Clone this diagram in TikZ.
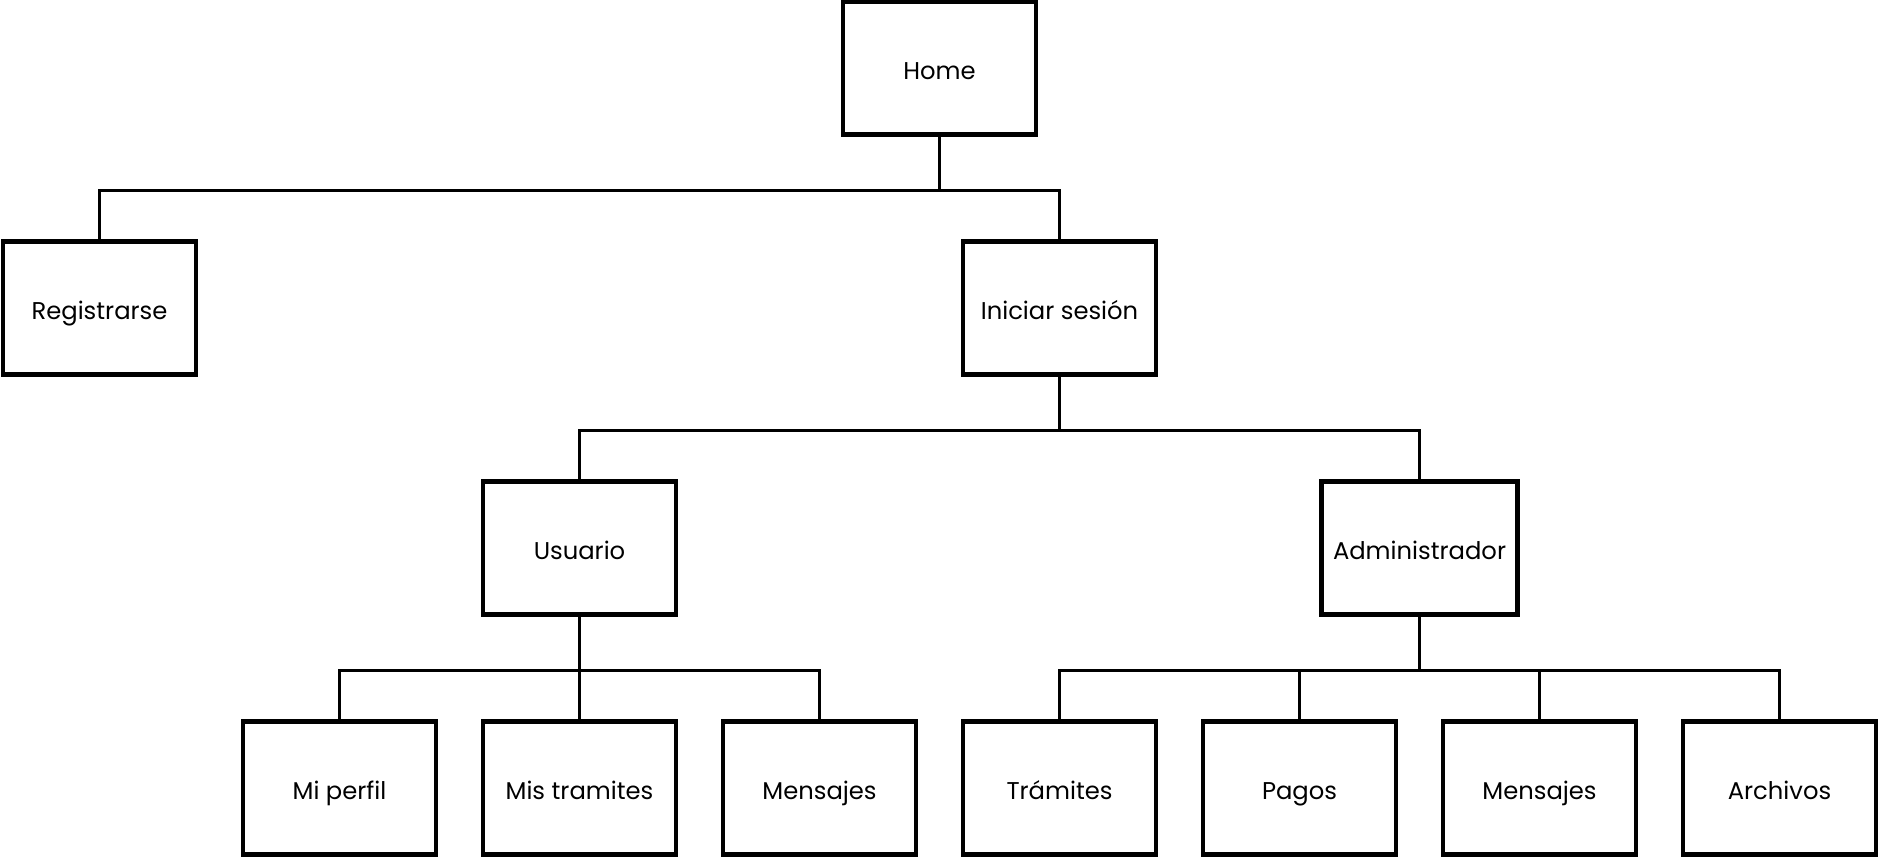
\documentclass[tikz,border=0pt]{standalone}
\usepackage{fontspec}
\setmainfont{Poppins}
\usetikzlibrary{positioning}

\begin{document}
\begin{tikzpicture}[node distance=2.4cm]
        \tikzstyle{box} = [rectangle, draw, line width=1.3pt, text centered, minimum height=1.33cm, minimum width=1.93cm, text height=1.6ex, text depth=0.4ex, font=\fontsize{6.9}{8}\selectfont]
        \tikzstyle{link} = [line width=0.8pt]

        \useasboundingbox (0,0) rectangle (18.8,-8.6);

        \node (home) [box] at (9.395,-0.68) {Home};
        \node (iniciar) [box, below of=home, xshift=1.2cm] {Iniciar sesi\'on};
        \node (registro) [box, below of=home, xshift=-8.4cm] {Registrarse};

        \node (usuario) [box, below of=iniciar, xshift=-4.8cm] {Usuario};
        \node (admin) [box, below of=iniciar, xshift=3.6cm] {Administrador};

        \node (misTramites) [box, below of=usuario] {Mis tramites};
        \node (perfil) [box, left of=misTramites] {Mi perfil};
        \node (mensajesU) [box, right of=misTramites] {Mensajes};
        \node (tramites) [box, right of=mensajesU] {Tr\'amites};
        \node (pagos) [box, right of=tramites] {Pagos};
        \node (mensajesA) [box, right of=pagos] {Mensajes};
        \node (archivos) [box, right of=mensajesA] {Archivos};

        \draw [link] (home.south) -- +(0,-0.535) -| (registro.north);
        \draw [link] (home.south) -- +(0,-0.535) -| (iniciar.north);
        \draw [link] (iniciar.south) -- +(0,-0.535) -| (usuario.north);
        \draw [link] (iniciar.south) -- +(0,-0.535) -| (admin.north);
        \draw [link] (usuario.south) -- +(0,-0.535) -| (perfil.north);
        \draw [link] (usuario.south) -- (misTramites.north);
        \draw [link] (usuario.south) -- +(0,-0.535) -| (mensajesU.north);
        \draw [link] (admin.south) -- +(0,-0.535) -| (tramites.north);
        \draw [link] (admin.south) -- +(0,-0.535) -| (pagos.north);
        \draw [link] (admin.south) -- +(0,-0.535) -| (mensajesA.north);
        \draw [link] (admin.south) -- +(0,-0.535) -| (archivos.north);
    \end{tikzpicture}
\end{document}
